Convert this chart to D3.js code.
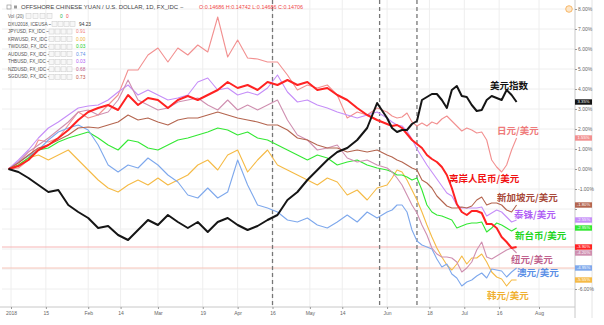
<!DOCTYPE html>
<html>
<head>
<meta charset="utf-8">
<script src="https://cdnjs.cloudflare.com/ajax/libs/d3/7.8.5/d3.min.js"></script>
<style>
  body { margin: 0; background: #fff; }
  svg { display: block; }
  .tick text { font-family: "Liberation Sans", Arial, sans-serif; }
</style>
</head>
<body>
<svg id="chart" width="604" height="325"></svg>
<script>
// sample dates (every 4 days to end of May, then every 2 days)
var dates = ["2017-12-31","2018-01-04","2018-01-08","2018-01-12","2018-01-16","2018-01-20","2018-01-24","2018-01-28",
  "2018-02-01","2018-02-05","2018-02-09","2018-02-13","2018-02-17","2018-02-21","2018-02-25",
  "2018-03-01","2018-03-05","2018-03-09","2018-03-13","2018-03-17","2018-03-21","2018-03-25","2018-03-29",
  "2018-04-02","2018-04-06","2018-04-10","2018-04-14","2018-04-18","2018-04-22","2018-04-26","2018-04-30",
  "2018-05-04","2018-05-08","2018-05-12","2018-05-16","2018-05-20","2018-05-24","2018-05-28",
  "2018-06-01","2018-06-03","2018-06-05","2018-06-07","2018-06-09","2018-06-11","2018-06-13","2018-06-15",
  "2018-06-17","2018-06-19","2018-06-21","2018-06-23","2018-06-25","2018-06-27","2018-06-29",
  "2018-07-01","2018-07-03","2018-07-05","2018-07-07","2018-07-09","2018-07-11","2018-07-13","2018-07-15",
  "2018-07-17","2018-07-19","2018-07-21","2018-07-23"];

// % change since start
var dxy = [0,-0.15,-0.45,-0.8,-1.15,-1.05,-1.8,-2.15,-2.45,-2.95,-2.85,-3.3,-3.55,-3.05,-2.55,-2.8,-2.3,-2.65,-2.95,-2.65,-3.15,-2.65,-2.45,-2.8,-3.05,-2.85,-2.55,-2.3,-1.55,-1.15,-0.55,-0.05,0.45,0.85,1.05,1.45,2.05,3.3,
  2.55,2.05,1.85,1.95,1.95,2.25,2.4,3.45,3.6,3.75,3.75,3.45,3.05,3.95,4.15,3.65,3.6,3.2,2.9,2.95,3.45,3.65,3.55,3.45,3.95,3.7,3.35];
var jpy = [0,0.05,0.45,1.45,1.35,1.55,2.2,2.85,2.55,2.7,3.2,3.7,4.95,4.95,5.7,6.05,5.35,6.05,5.7,6.2,5.85,7.6,5.6,6.45,5.55,5.5,5.35,5.35,4.7,3.95,4.2,4.05,4.2,3.7,2.55,2.85,2.7,3.05,
  2.85,2.65,2.55,2.6,2.8,2.35,2.15,2.3,2.15,2.35,2.25,2.5,2.65,2.4,2.15,1.9,2.05,1.95,1.8,1.85,1.45,0.45,0.1,-0.15,0.2,0.95,1.55];
var cnh = [0,0.15,0.45,0.95,1.2,1.55,1.95,2.45,2.85,3.05,3.2,2.95,3.7,3.2,3.55,3.45,3.05,3.45,3.65,3.45,3.7,3.95,4.35,4.05,4.2,3.95,4.35,4.2,4.45,4.2,4.35,3.95,4.05,3.7,3.45,3.05,2.7,2.45,
  2.25,2.15,2.2,2.05,1.75,1.45,1.25,1.05,0.7,0.5,0.35,0.1,-0.3,-0.95,-1.75,-2.15,-2.3,-2.1,-2.1,-2.2,-2.75,-2.75,-2.95,-3.4,-3.65,-3.95,-3.9];
var krw = [0,0.2,0.55,0.7,0.45,0.7,0.95,0.45,-0.05,-0.55,-0.95,-1.15,-0.8,-0.55,-0.8,-0.45,-0.8,-0.55,-0.3,0.2,0.45,-0.05,0.7,0.95,-0.15,0.45,0.95,0.2,-0.05,-0.3,-0.55,-0.8,-0.45,-0.65,-1.3,-1.05,-1.55,-0.95,
  -0.8,-0.45,-0.05,-0.15,-0.55,-1.05,-1.55,-2.15,-2.8,-3.4,-3.95,-4.4,-4.8,-5.05,-4.75,-4.35,-4.75,-4.45,-4.45,-4.25,-4.65,-5.15,-5.4,-5.5,-5.85,-5.55,-5.55];
var twd = [0,0.2,0.55,0.95,1.05,1.35,1.55,1.7,1.85,1.55,1.2,0.95,1.45,1.35,1.05,0.95,1.2,1.45,1.55,1.7,1.85,2.05,1.95,1.7,1.85,1.55,1.45,1.2,0.95,0.7,0.45,0.7,0.55,0.2,0.35,0.45,0.2,0.05,
  -0.05,-0.15,-0.3,-0.3,-0.4,-0.55,-0.45,-1.05,-1.8,-2.15,-2.3,-2.35,-2.45,-2.55,-2.95,-2.85,-2.75,-2.7,-2.7,-2.65,-3.15,-2.95,-2.7,-2.8,-2.95,-3.1,-2.95];
var aud = [0,0.35,0.65,0.95,1.45,1.85,2.05,2.2,1.95,1.2,0.2,-0.15,0.2,0.05,0.55,0.2,-0.3,-0.65,-1.3,-1.45,-0.95,-1.45,-1.15,0.45,-0.8,-1.8,-1.95,-2.15,-2.55,-2.65,-2.45,-2.8,-2.95,-2.65,-2.3,-2.65,-2.15,-2.45,
  -2.15,-2.05,-1.8,-1.8,-2.15,-3.05,-3.6,-3.8,-3.9,-4.0,-4.5,-4.9,-4.75,-5.25,-5.45,-5.85,-5.65,-5.55,-5.35,-5.2,-5.45,-5.0,-5.05,-5.1,-5.4,-5.15,-4.95];
var thb = [0,0.45,0.95,1.55,2.05,2.35,2.7,3.05,3.15,3.2,3.45,3.85,4.2,3.7,3.95,3.7,3.45,3.55,3.7,4.35,4.55,3.95,4.05,3.7,3.85,3.7,4.05,4.7,3.85,3.35,3.45,3.2,3.05,2.85,2.7,2.55,2.7,2.85,
  2.55,2.35,2.2,2.15,1.9,1.5,1.0,0.6,0.2,-0.15,-0.5,-0.85,-1.2,-1.35,-1.8,-1.95,-1.95,-1.95,-1.95,-1.9,-2.35,-2.2,-2.05,-2.15,-2.4,-2.65,-2.55];
var nzd = [0,0.35,0.85,1.2,1.55,1.95,2.35,2.85,2.95,2.7,2.85,3.45,4.45,3.45,3.2,2.95,3.05,3.35,3.45,3.55,3.2,2.95,3.45,2.95,3.2,2.95,3.2,3.45,2.45,1.7,1.45,0.95,1.05,1.2,0.55,0.35,0.45,0.2,
  0.05,-0.15,-0.45,-0.8,-1.3,-1.8,-2.2,-2.8,-3.3,-3.95,-4.25,-4.4,-4.4,-4.45,-4.65,-5.15,-4.95,-4.65,-4.05,-3.65,-4.4,-4.5,-4.35,-4.2,-4.05,-3.95,-4.2];
var sgd = [0,0.3,0.7,1.05,1.2,1.45,1.7,2.05,2.1,2.05,2.2,2.35,2.7,2.45,2.55,2.35,2.2,2.45,2.55,2.55,2.7,2.85,2.7,2.55,2.45,2.35,2.2,2.2,1.95,1.55,1.45,1.2,1.05,1.05,0.85,0.95,0.85,0.95,
  0.7,0.6,0.45,0.35,0.2,0.05,-0.05,-0.55,-0.7,-0.95,-1.35,-1.6,-1.85,-1.95,-1.95,-1.9,-1.95,-1.85,-1.55,-1.4,-1.8,-1.7,-1.7,-1.8,-2.05,-2.15,-1.8];

var yTicks = [-6,-5,-4,-3,-2,-1,0,1,2,3,4,5,6,7,8];
var xTickDates = ["2018-01-01","2018-01-15","2018-02-01","2018-02-14","2018-03-01","2018-03-19","2018-04-02","2018-04-16",
  "2018-05-01","2018-05-14","2018-06-01","2018-06-18","2018-07-02","2018-07-16","2018-08-01"];
var xTickLabels = ["2018","15","Feb","14","Mar","19","Apr","16","May","14","Jun","18","Jul","16","Aug"];
var eventDates = ["2018-04-16","2018-05-29","2018-06-13"];

var legendNames = ["DXU2018, ICEUSA","JPYUSD, FX_IDC","KRWUSD, FX_IDC","TWDUSD, FX_IDC","AUDUSD, FX_IDC",
  "THBUSD, FX_IDC","NZDUSD, FX_IDC","SGDUSD, FX_IDC"];
var legendValues = ["94.23","0.91","0.00","0.03","0.74","0.03","0.68","0.73"];

var parse = d3.timeParse("%Y-%m-%d");
var plot = {left: 2, right: 575, top: 0, bottom: 307};

var x = d3.scaleTime().domain([parse("2018-01-01"), parse("2018-08-01")]).range([11, 539]);
var y = d3.scaleLinear().domain([-6, 8]).range([289, 9]);

// series: draw order, colour, label
var series = [
  {v: jpy, color: "#f29090", w: 1.1, label: "日元/美元", lx: 497, ly: 131, lc: "#ef7b7b"},
  {v: krw, color: "#f5ba45", w: 1.1, label: "韩元/美元", lx: 487, ly: 296, lc: "#f0b030"},
  {v: twd, color: "#33e833", w: 1.1, label: "新台币/美元", lx: 515, ly: 236, lc: "#1fd51f"},
  {v: aud, color: "#7ea8ec", w: 1.1, label: "澳元/美元", lx: 517, ly: 273, lc: "#5b8fe6"},
  {v: thb, color: "#c58ef8", w: 1.1, label: "泰铢/美元", lx: 514, ly: 215, lc: "#b060f5"},
  {v: nzd, color: "#cf8fb0", w: 1.1, label: "纽元/美元", lx: 511, ly: 260, lc: "#c0628e"},
  {v: sgd, color: "#b4654f", w: 1.1, label: "新加坡元/美元", lx: 497, ly: 198, lc: "#a8493a"},
  {v: cnh, color: "#ff2222", w: 2, label: "离岸人民币/美元", lx: 449, ly: 179, lc: "#f01010"},
  {v: dxy, color: "#151515", w: 2, label: "美元指数", lx: 490, ly: 86, lc: "#111"}
];

function lastVal(s) { return s.v[s.v.length - 1]; }

var svg = d3.select("#chart");
var font = "'Liberation Sans', Arial, sans-serif";

svg.append("defs").append("clipPath").attr("id", "clip")
  .append("rect").attr("x", plot.left).attr("y", plot.top)
  .attr("width", plot.right - plot.left).attr("height", plot.bottom - plot.top);

// grid
var grid = svg.append("g");
grid.selectAll("line.h").data(yTicks).join("line").attr("class", "h")
  .attr("x1", plot.left).attr("x2", plot.right)
  .attr("y1", function(d) { return y(d); }).attr("y2", function(d) { return y(d); })
  .attr("stroke", "#eeeeee");
grid.selectAll("line.v").data(xTickDates).join("line").attr("class", "v")
  .attr("x1", function(d) { return x(parse(d)); }).attr("x2", function(d) { return x(parse(d)); })
  .attr("y1", plot.top).attr("y2", plot.bottom)
  .attr("stroke", "#eeeeee");

// price lines
var priceLines = svg.append("g");
priceLines.append("line")
  .attr("x1", plot.left).attr("x2", plot.right)
  .attr("y1", y(lastVal(series[7]))).attr("y2", y(lastVal(series[7])))
  .attr("stroke", "#f6b4b4");
priceLines.append("line")
  .attr("x1", plot.left).attr("x2", plot.right)
  .attr("y1", y(lastVal(series[3]))).attr("y2", y(lastVal(series[3])))
  .attr("stroke", "#f7c4b8");

// event lines
svg.append("g").selectAll("line").data(eventDates).join("line")
  .attr("x1", function(d) { return x(parse(d)); }).attr("x2", function(d) { return x(parse(d)); })
  .attr("y1", plot.top).attr("y2", plot.bottom)
  .attr("stroke", "#777").attr("stroke-width", 1.3).attr("stroke-dasharray", "4,3");

// lines
var line = d3.line()
  .x(function(d, i) { return x(parse(dates[i])); })
  .y(function(d) { return y(d); });

svg.append("g").attr("clip-path", "url(#clip)")
  .selectAll("path").data(series).join("path")
  .attr("d", function(s) { return line(s.v); })
  .attr("fill", "none")
  .attr("stroke", function(s) { return s.color; })
  .attr("stroke-width", function(s) { return s.w; })
  .attr("stroke-linejoin", "round");

// chinese labels
svg.append("g").selectAll("text").data(series).join("text")
  .attr("x", function(s) { return s.lx; })
  .attr("y", function(s) { return s.ly; })
  .attr("dy", "0.35em")
  .attr("font-family", "'Noto Sans CJK SC', sans-serif")
  .attr("font-weight", "bold")
  .attr("font-size", 9.5)
  .attr("fill", function(s) { return s.lc; })
  .text(function(s) { return s.label; });

// frame lines
svg.append("line").attr("x1", plot.right).attr("x2", plot.right).attr("y1", 0).attr("y2", 318).attr("stroke", "#c8c8c8");
svg.append("line").attr("x1", 0).attr("x2", plot.right).attr("y1", plot.bottom).attr("y2", plot.bottom).attr("stroke", "#c8c8c8");
svg.append("line").attr("x1", 592).attr("x2", 592).attr("y1", 0).attr("y2", 318).attr("stroke", "#e4e4e4");

// right axis (labels under a value box are hidden, as the platform does)
var boxYs = series.map(function(s) { return y(lastVal(s)); });
var yAxis = svg.append("g").attr("transform", "translate(" + plot.right + ",0)")
  .call(d3.axisRight(y).tickValues(yTicks).tickSize(2).tickPadding(1)
    .tickFormat(function(d) { return d.toFixed(2) + "%"; }));
yAxis.select(".domain").remove();
yAxis.selectAll(".tick line").attr("stroke", "#999");
yAxis.selectAll(".tick text").attr("font-size", 5).attr("fill", "#666")
  .style("display", function(d) {
    var ty = y(d);
    return boxYs.some(function(b) { return Math.abs(b - ty) < 5.5; }) ? "none" : null;
  });

// bottom axis
var xAxis = svg.append("g").attr("transform", "translate(0," + plot.bottom + ")")
  .call(d3.axisBottom(x).tickValues(xTickDates.map(parse)).tickSize(2).tickPadding(2)
    .tickFormat(function(d, i) { return xTickLabels[i]; }));
xAxis.select(".domain").remove();
xAxis.selectAll(".tick line").attr("stroke", "#999");
xAxis.selectAll(".tick text").attr("font-size", 5).attr("fill", "#666");

// last value boxes
var boxes = svg.append("g").selectAll("g").data(series).join("g")
  .attr("transform", function(s) { return "translate(" + plot.right + "," + y(lastVal(s)) + ")"; });
boxes.append("rect").attr("x", 0).attr("y", -2.7).attr("width", 17).attr("height", 5.4)
  .attr("fill", function(s) { return s.color; });
boxes.append("text").attr("x", 8.5).attr("y", 0).attr("dy", "0.35em")
  .attr("text-anchor", "middle").attr("font-family", font).attr("font-size", 4.2).attr("fill", "#fff")
  .text(function(s) { return lastVal(s).toFixed(2) + "%"; });

// top-right icon
svg.append("circle").attr("cx", 569).attr("cy", 9).attr("r", 3.3)
  .attr("fill", "#fde6c8").attr("stroke", "#f5a84a").attr("stroke-width", 0.8);

// header
var head = svg.append("g").attr("font-family", font);
head.append("rect").attr("x", 7).attr("y", 5).attr("width", 4).attr("height", 4)
  .attr("fill", "none").attr("stroke", "#888").attr("stroke-width", 0.6);
head.append("rect").attr("x", 14).attr("y", 5.5).attr("width", 3).attr("height", 3).attr("fill", "#999");
head.append("text").attr("x", 21).attr("y", 9.2).attr("font-size", 6).attr("fill", "#444")
  .attr("textLength", 157).attr("lengthAdjust", "spacingAndGlyphs")
  .text("OFFSHORE CHINESE YUAN / U.S. DOLLAR, 1D, FX_IDC");
head.append("text").attr("x", 180).attr("y", 9.2).attr("font-size", 6).attr("fill", "#777").text("~");
head.append("text").attr("x", 199).attr("y", 9.2).attr("font-size", 5.5).attr("fill", "#f04848")
  .attr("textLength", 104).attr("lengthAdjust", "spacingAndGlyphs")
  .text("O:0.14686  H:0.14742  L:0.14686  C:0.14706");

// legend rows
var legendColors = ["#333", "#ef7b7b", "#f0b030", "#22cc22", "#5b8fe6", "#b060f5", "#c0628e", "#c0503a"];
var leg = svg.append("g").attr("font-family", font);
leg.append("text").attr("x", 8).attr("y", 17.6).attr("font-size", 4.6).attr("fill", "#666").text("Vol (20)");
d3.range(4).forEach(function(k) {
  leg.append("rect").attr("x", 26 + k * 7).attr("y", 13.5).attr("width", 5).attr("height", 5)
    .attr("fill", "#f7f7f7").attr("stroke", "#c8c8c8").attr("stroke-width", 0.5);
});
leg.append("text").attr("x", 60).attr("y", 17.6).attr("font-size", 4.8).attr("fill", "#26b34a").text("0");
leg.append("text").attr("x", 66).attr("y", 17.6).attr("font-size", 4.8).attr("fill", "#f04848").text("0");

var rows = leg.selectAll("g.row").data(legendNames).join("g").attr("class", "row")
  .attr("transform", function(d, i) { return "translate(0," + (24 + i * 7.55) + ")"; });
rows.append("text").attr("x", 8).attr("y", 1.6).attr("font-size", 4.6).attr("fill", "#555")
  .text(function(d) { return d + " ~"; });
rows.each(function(d, i) {
  var g = d3.select(this);
  var bx = i === 0 ? 52 : 49;
  d3.range(4).forEach(function(k) {
    g.append("rect").attr("x", bx + k * 6).attr("y", -2.5).attr("width", 5).attr("height", 5)
      .attr("fill", "#f7f7f7").attr("stroke", "#c8c8c8").attr("stroke-width", 0.5);
  });
  g.append("text").attr("x", bx + 27).attr("y", 1.7).attr("font-size", 4.8)
    .attr("fill", legendColors[i]).text(legendValues[i]);
});
</script>
</body>
</html>
